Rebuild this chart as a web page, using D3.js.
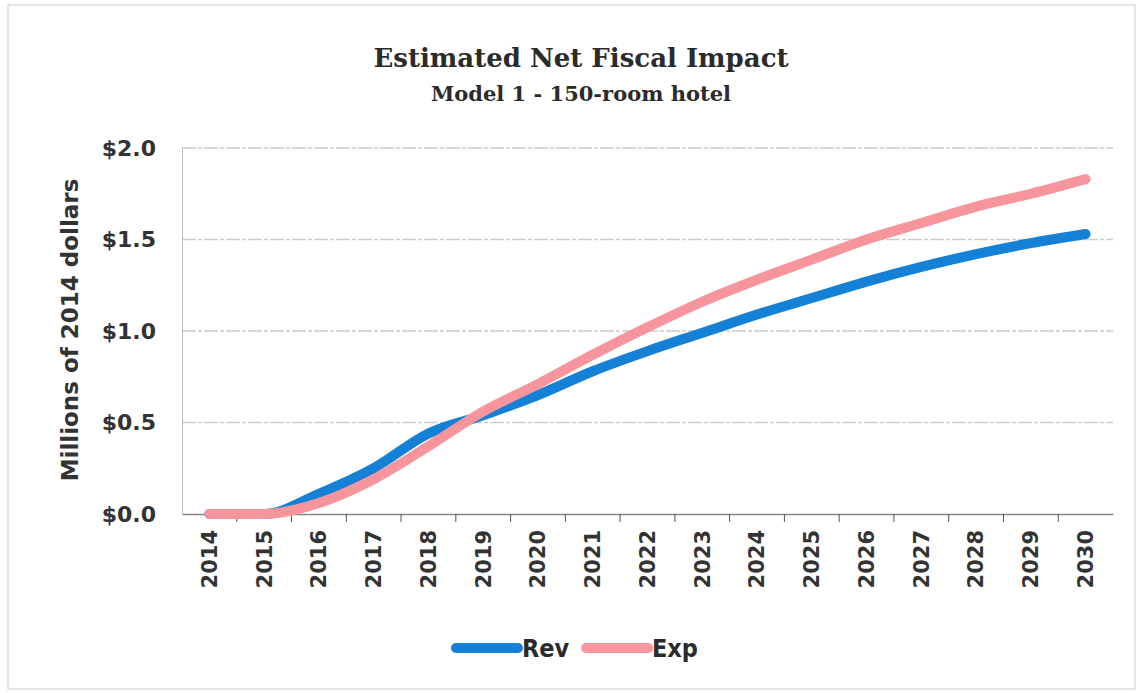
<!DOCTYPE html>
<html>
<head>
<meta charset="utf-8">
<script src="https://cdn.jsdelivr.net/npm/d3@7"></script>
<style>
  body { margin: 0; background: #fff; }
</style>
</head>
<body>
<div id="chart"></div>
<script>
const years = ["2014", "2015", "2016", "2017", "2018", "2019", "2020", "2021", "2022",
               "2023", "2024", "2025", "2026", "2027", "2028", "2029", "2030"];
const rev = [0.0, 0.0, 0.11, 0.25, 0.44, 0.54, 0.65, 0.78, 0.89, 0.99, 1.09, 1.18, 1.27, 1.35, 1.42, 1.48, 1.53];
const exp = [0.0, 0.0, 0.06, 0.19, 0.37, 0.56, 0.71, 0.87, 1.02, 1.16, 1.28, 1.39, 1.50, 1.59, 1.68, 1.75, 1.83];
const yTicks = [0, 0.5, 1.0, 1.5, 2.0];

const W = 1141, H = 693;
const margin = { top: 148, right: 28, bottom: 179, left: 182 },
      width = W - margin.left - margin.right,
      height = H - margin.top - margin.bottom;

const root = d3.select("#chart")
  .append("svg")
  .attr("width", W)
  .attr("height", H);

// faint frame of the scanned chart
root.append("rect")
  .attr("x", 8).attr("y", 5)
  .attr("width", W - 14).attr("height", H - 9)
  .attr("fill", "none")
  .attr("stroke", "#d4d4d4")
  .attr("stroke-width", 1.2);

root.append("text")
  .attr("x", 581).attr("y", 67)
  .attr("text-anchor", "middle")
  .style("font-family", "'DejaVu Serif', serif")
  .style("font-weight", "bold")
  .style("font-size", "26px")
  .attr("fill", "#2b2b2b")
  .text("Estimated Net Fiscal Impact");

root.append("text")
  .attr("x", 581).attr("y", 101)
  .attr("text-anchor", "middle")
  .style("font-family", "'DejaVu Serif', serif")
  .style("font-weight", "bold")
  .style("font-size", "21px")
  .attr("fill", "#2b2b2b")
  .text("Model 1 - 150-room hotel");

const svg = root.append("g")
  .attr("transform", `translate(${margin.left},${margin.top})`);

const x = d3.scaleBand().domain(years).range([0, width]);
const y = d3.scaleLinear().domain([0, 2]).range([height, 0]);

// gridlines
svg.append("g")
  .selectAll("line")
  .data(yTicks.filter(d => d > 0))
  .enter()
  .append("line")
  .attr("x1", 0).attr("x2", width)
  .attr("y1", d => y(d)).attr("y2", d => y(d))
  .attr("stroke", "#c9ccd0")
  .attr("stroke-width", 1.3)
  .attr("stroke-dasharray", "14,2,4,2");

// y axis
const yAxis = svg.append("g")
  .call(d3.axisLeft(y).tickValues(yTicks).tickSize(0).tickPadding(26).tickFormat(d => "$" + d3.format(".1f")(d)));
yAxis.select(".domain").attr("stroke", "#bbb");
yAxis.selectAll("text")
  .style("font-family", "'DejaVu Sans', sans-serif")
  .style("font-weight", "bold")
  .style("font-size", "22px")
  .attr("fill", "#333");

// x axis, ticks between categories
const xAxis = svg.append("g")
  .attr("transform", `translate(0,${height})`)
  .call(d3.axisBottom(x).tickSize(0).tickPadding(14));
xAxis.select(".domain").attr("stroke", "#888").attr("stroke-width", 1.3);
xAxis.selectAll("text")
  .attr("transform", "rotate(-90)")
  .attr("x", -16).attr("y", 0).attr("dy", "0.35em")
  .style("text-anchor", "end")
  .style("font-family", "'DejaVu Sans', sans-serif")
  .style("font-weight", "bold")
  .style("font-size", "21px")
  .attr("fill", "#333");

xAxis.append("g")
  .selectAll("line")
  .data(years.slice(1))
  .enter()
  .append("line")
  .attr("x1", d => x(d)).attr("x2", d => x(d))
  .attr("y1", 0).attr("y2", 8)
  .attr("stroke", "#555");

// y axis title
root.append("text")
  .attr("transform", "rotate(-90)")
  .attr("x", -330).attr("y", 78)
  .attr("text-anchor", "middle")
  .style("font-family", "'DejaVu Sans', sans-serif")
  .style("font-weight", "bold")
  .style("font-size", "23px")
  .attr("fill", "#333")
  .text("Millions of 2014 dollars");

const line = d3.line()
  .x((d, i) => x(years[i]) + x.bandwidth() / 2)
  .y(d => y(d))
  .curve(d3.curveMonotoneX);

const series = [
  { name: "Rev", values: rev, color: "#1581d6" },
  { name: "Exp", values: exp, color: "#f7959d" }
];

series.forEach(s => {
  svg.append("path")
    .datum(s.values)
    .attr("fill", "none")
    .attr("stroke", s.color)
    .attr("stroke-width", 10)
    .attr("stroke-linecap", "round")
    .attr("stroke-linejoin", "round")
    .attr("d", line);
});

// legend
const legend = root.append("g").attr("transform", "translate(452,648)");
series.forEach((s, i) => {
  const gx = i * 130;
  legend.append("line")
    .attr("x1", gx + 4).attr("x2", gx + 66)
    .attr("y1", 0).attr("y2", 0)
    .attr("stroke", s.color)
    .attr("stroke-width", 10)
    .attr("stroke-linecap", "round");
  legend.append("text")
    .attr("x", gx + 70).attr("y", 9)
    .style("font-family", "'Liberation Sans Narrow', 'DejaVu Sans Condensed', sans-serif")
    .style("font-weight", "bold")
    .style("font-size", "25px")
    .attr("fill", "#2b2b2b")
    .text(s.name);
});
</script>
</body>
</html>
